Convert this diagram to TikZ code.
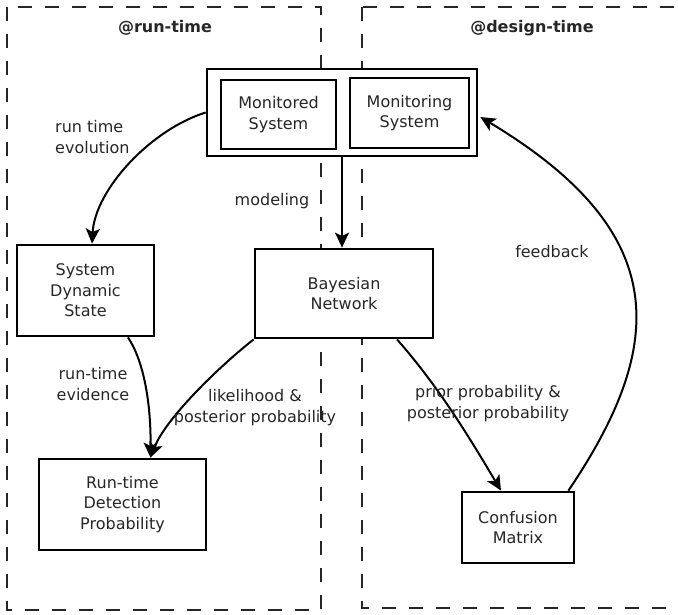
\documentclass[tikz,border=0pt]{standalone}
\usepackage{fontspec}
\setmainfont{DejaVu Sans}
\usetikzlibrary{arrows.meta,calc}
\begin{document}
\begin{tikzpicture}[x=1pt,y=-1pt,
  every node/.style={font=\fontsize{16}{20.5}\selectfont, text=black!85},
  box/.style={draw=black, fill=white, line width=2.8pt, inner sep=0pt, align=center},
  zone/.style={draw=black!85, line width=2.8pt, dash pattern=on 14pt off 13pt},
  conn/.style={draw=black, line width=2pt, -{Stealth[length=15pt,width=14pt,inset=3.5pt]}},
  lbl/.style={align=center, inner sep=0pt},
  zonetitle/.style={font=\fontsize{16}{20}\selectfont\bfseries, inner sep=0pt}
]
\useasboundingbox (0,0) rectangle (678,614);

% the two time zones
\draw[zone] (7,7) rectangle (321,610);
\draw[zone] (362,7) rectangle (700,608);
\node[zonetitle, anchor=base] (trun) at (165,32) {@run-time};
\node[zonetitle, anchor=base] (tdes) at (532,32) {@design-time};

% system under observation
\node[box, minimum width=270pt, minimum height=87pt] (sys) at (342,112.5) {};
\node[box, minimum width=115pt, minimum height=69pt] (mond) at (278.5,114.5) {Monitored\\System};
\node[box, minimum width=119pt, minimum height=70pt] (moni) at (409.5,113) {Monitoring\\System};

% other blocks
\node[box, minimum width=137pt, minimum height=91pt] (sds) at (85.5,290.5) {System\\Dynamic\\State};
\node[box, minimum width=178pt, minimum height=89pt] (bn) at (344,293.5) {Bayesian\\Network};
\node[box, minimum width=167pt, minimum height=91pt] (rdp) at (122.5,504.5) {Run-time\\Detection\\Probability};
\node[box, minimum width=112pt, minimum height=71pt] (cm) at (518,527.5) {Confusion\\Matrix};

% connector end points
\coordinate (sdsin) at ($(sds.north)+(6.5,0)$);
\coordinate (sdsout) at ($(sds.south)+(42.5,0)$);
\coordinate (rdpin) at ($(rdp.north)+(28,0)$);
\coordinate (bnout) at ($(bn.south)+(53,0)$);
\coordinate (cmin) at ($(cm.north)+(-17,0)$);
\coordinate (cmout) at ($(cm.north east)+(-7,0)$);
\coordinate (sysin) at ($(sys.east)+(2,4.5)$);

% connectors
\draw[conn] (sys.west) .. controls (150,130) and (95,190) .. (sdsin);
\draw[conn] (sys.south) -- (sys.south |- bn.north);
\draw[conn] (sdsout) .. controls (143,360) and (151,400) .. (rdpin);
\draw[conn] (bn.south west) .. controls (215,370) and (165,420) .. (rdpin);
\draw[conn] (bnout) .. controls (440,388) and (472,442) .. (cmin);
\draw[conn] (cmout) .. controls (669,342) and (670,231) .. (sysin);

% connector labels (base = baseline of the last line)
\node[lbl, align=left, anchor=base west] (levo) at (55,153) {run time\\evolution};
\node[lbl, anchor=base] (lmod) at (272,205) {modeling};
\node[lbl, anchor=base] (lfb) at (552,257) {feedback};
\node[lbl, anchor=base] (lev) at (93,400) {run-time\\evidence};
\node[lbl, anchor=base] (llik) at (255,422) {likelihood \&\\posterior probability};
\node[lbl, anchor=base] (lpri) at (488,418) {prior probability \&\\posterior probability};
\end{tikzpicture}
\end{document}
